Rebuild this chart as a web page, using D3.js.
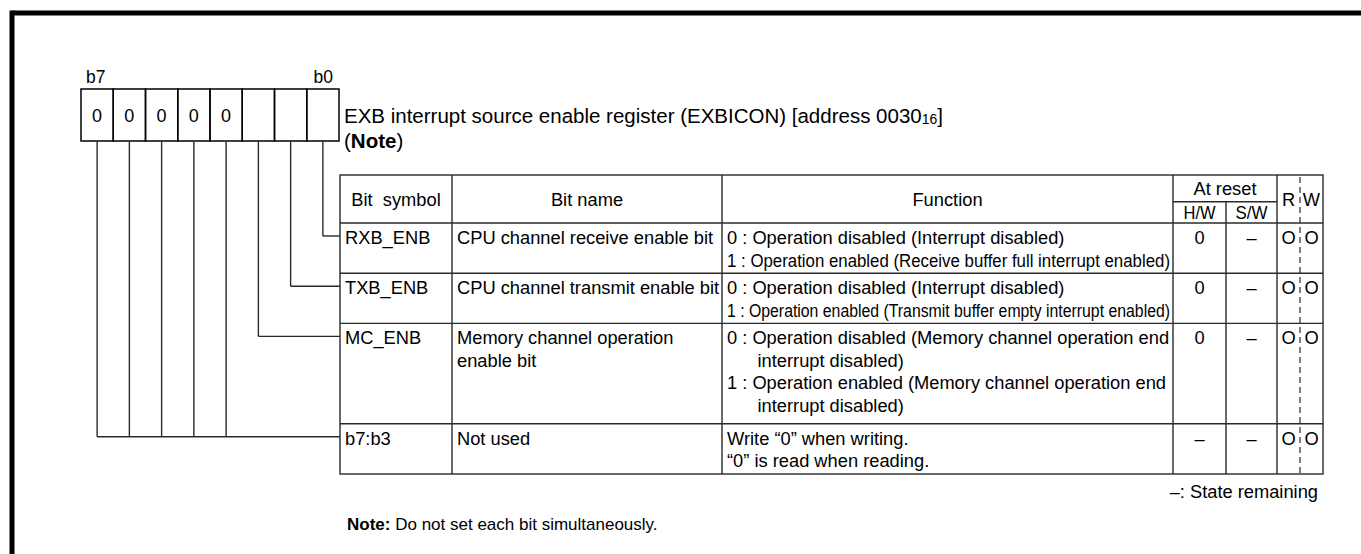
<!DOCTYPE html>
<html>
<head>
<meta charset="utf-8">
<script src="https://cdn.jsdelivr.net/npm/d3@7"></script>
<style>
  html, body { margin: 0; padding: 0; background: #fff; }
  svg text { font-family: "Liberation Sans", Arial, Helvetica, sans-serif; fill: #000; white-space: pre; }
</style>
</head>
<body>
<svg id="chart" width="1361" height="554"></svg>
<script>
// ---------------- data ----------------
const bitOrder = [7, 6, 5, 4, 3, 2, 1, 0];
const bitEndLabels = ["b7", "b0"];
const bitValues = ["0", "0", "0", "0", "0", "", "", ""];
const titleMain = "EXB interrupt source enable register (EXBICON) [address 0030";
const titleSub = "16";
const titleEnd = "]";
const headerLabels = ["Bit  symbol", "Bit name", "Function", "At reset", "H/W", "S/W", "R", "W"];
const bitSymbols = ["RXB_ENB", "TXB_ENB", "MC_ENB", "b7:b3"];
const bitNames = [
  ["CPU channel receive enable bit"],
  ["CPU channel transmit enable bit"],
  ["Memory channel operation", "enable bit"],
  ["Not used"]
];
const functionLines = [
  ["0 : Operation disabled (Interrupt disabled)", "1 : Operation enabled (Receive buffer full interrupt enabled)"],
  ["0 : Operation disabled (Interrupt disabled)", "1 : Operation enabled (Transmit buffer empty interrupt enabled)"],
  ["0 : Operation disabled (Memory channel operation end", "      interrupt disabled)",
   "1 : Operation enabled (Memory channel operation end", "      interrupt disabled)"],
  ["Write \u201c0\u201d when writing.", "\u201c0\u201d is read when reading."]
];
const condensedLines = [[1], [1], [], []];
const resetHW = ["0", "0", "0", "\u2013"];
const resetSW = ["\u2013", "\u2013", "\u2013", "\u2013"];
const readMarks = ["O", "O", "O", "O"];
const writeMarks = ["O", "O", "O", "O"];
const rowLineCounts = [2, 2, 4, 2];
const rowBits = [[0], [1], [2], [3, 4, 5, 6, 7]];
const legendText = "\u2013: State remaining";
const noteBold = "Note:";
const noteText = " Do not set each bit simultaneously.";

// ---------------- layout ----------------
const svg = d3.select("#chart");
const FS = 18.3;
const lineCol = "#2a2a2a";

// frame
svg.append("line").attr("x1", 12).attr("y1", 13).attr("x2", 1361).attr("y2", 13)
  .attr("stroke", "#000").attr("stroke-width", 5);
svg.append("line").attr("x1", 12).attr("y1", 10.5).attr("x2", 12).attr("y2", 554)
  .attr("stroke", "#000").attr("stroke-width", 5);

// register boxes
const xBit = d3.scaleBand().domain(bitOrder).range([81, 339]);
const boxTop = 89, boxBot = 141;
const reg = svg.append("g");
reg.selectAll("rect").data(bitOrder).join("rect")
  .attr("x", d => xBit(d)).attr("y", boxTop)
  .attr("width", xBit.bandwidth()).attr("height", boxBot - boxTop)
  .attr("fill", "none").attr("stroke", "#000").attr("stroke-width", 1.5);
reg.selectAll("text.val").data(bitOrder).join("text").attr("class", "val")
  .attr("x", d => xBit(d) + xBit.bandwidth() / 2).attr("y", (boxTop + boxBot) / 2 + 6.5)
  .attr("text-anchor", "middle").attr("font-size", 18)
  .text((d, i) => bitValues[i]);
svg.append("text").attr("x", xBit(7) + 5).attr("y", 83).attr("font-size", 17.5).text(bitEndLabels[0]);
svg.append("text").attr("x", xBit(0) + xBit.bandwidth() - 6).attr("y", 83)
  .attr("text-anchor", "end").attr("font-size", 17.5).text(bitEndLabels[1]);

// title
const TFS = 20.5;
const title = svg.append("text").attr("x", 344).attr("y", 123).attr("font-size", TFS);
title.append("tspan").text(titleMain);
title.append("tspan").attr("font-size", 14).attr("dy", 1).text(titleSub);
title.append("tspan").attr("dy", -1).text(titleEnd);
const t2 = svg.append("text").attr("x", 344).attr("y", 148).attr("font-size", TFS);
t2.append("tspan").text("(");
t2.append("tspan").attr("font-weight", "bold").text("Note");
t2.append("tspan").text(")");

// table geometry
const colX = [340, 452, 722, 1173, 1226, 1277, 1300, 1323];
const tableTop = 175, headMid = 201.7, headBot = 223;
const cum = [0];
rowLineCounts.forEach(c => cum.push(cum[cum.length - 1] + c));
const yLine = d3.scaleLinear().domain([0, cum[cum.length - 1]]).range([headBot, 474]);
const tableBot = yLine(cum[cum.length - 1]);

const tg = svg.append("g").attr("stroke", lineCol).attr("stroke-width", 1.4);
tg.append("rect").attr("x", colX[0]).attr("y", tableTop)
  .attr("width", colX[7] - colX[0]).attr("height", tableBot - tableTop).attr("fill", "none");
[1, 2, 3, 5].forEach(i => {
  tg.append("line").attr("x1", colX[i]).attr("x2", colX[i]).attr("y1", tableTop).attr("y2", tableBot);
});
tg.append("line").attr("x1", colX[4]).attr("x2", colX[4]).attr("y1", headMid).attr("y2", tableBot);
tg.append("line").attr("x1", colX[3]).attr("x2", colX[5]).attr("y1", headMid).attr("y2", headMid);
cum.slice(0, -1).forEach(c => {
  tg.append("line").attr("x1", colX[0]).attr("x2", colX[7]).attr("y1", yLine(c)).attr("y2", yLine(c));
});
svg.append("line").attr("x1", colX[6]).attr("x2", colX[6]).attr("y1", tableTop + 2).attr("y2", tableBot)
  .attr("stroke", lineCol).attr("stroke-width", 1.2).attr("stroke-dasharray", "6,4");

// header text
const hdr = svg.append("g").attr("font-size", FS).attr("text-anchor", "middle");
const hMidY = (tableTop + headBot) / 2 + 6.5;
hdr.append("text").attr("x", (colX[0] + colX[1]) / 2).attr("y", hMidY).text(headerLabels[0]);
hdr.append("text").attr("x", (colX[1] + colX[2]) / 2).attr("y", hMidY).text(headerLabels[1]);
hdr.append("text").attr("x", (colX[2] + colX[3]) / 2).attr("y", hMidY).text(headerLabels[2]);
hdr.append("text").attr("x", (colX[3] + colX[5]) / 2).attr("y", (tableTop + headMid) / 2 + 6.5).text(headerLabels[3]);
hdr.append("text").attr("x", (colX[3] + colX[4]) / 2).attr("y", (headMid + headBot) / 2 + 6.5)
  .attr("textLength", 32).attr("lengthAdjust", "spacingAndGlyphs").text(headerLabels[4]);
hdr.append("text").attr("x", (colX[4] + colX[5]) / 2).attr("y", (headMid + headBot) / 2 + 6.5)
  .attr("textLength", 32).attr("lengthAdjust", "spacingAndGlyphs").text(headerLabels[5]);
hdr.append("text").attr("x", (colX[5] + colX[6]) / 2).attr("y", hMidY).text(headerLabels[6]);
hdr.append("text").attr("x", (colX[6] + colX[7]) / 2).attr("y", hMidY).text(headerLabels[7]);

// rows
const body = svg.append("g").attr("font-size", FS);
const firstOff = 14.5, pitch = 22.5, baseOff = 6.5;
bitSymbols.forEach((sym, r) => {
  const top = yLine(cum[r]);
  const ly = i => top + firstOff + i * pitch + baseOff;
  body.append("text").attr("x", colX[0] + 5).attr("y", ly(0)).text(sym);
  bitNames[r].forEach((t, i) => body.append("text").attr("x", colX[1] + 5).attr("y", ly(i)).text(t));
  functionLines[r].forEach((t, i) => {
    const tx = body.append("text").attr("x", colX[2] + 5).attr("y", ly(i)).text(t);
    if (condensedLines[r].includes(i)) {
      tx.attr("textLength", colX[3] - colX[2] - 8).attr("lengthAdjust", "spacingAndGlyphs");
    }
  });
  body.append("text").attr("x", (colX[3] + colX[4]) / 2).attr("y", ly(0)).attr("text-anchor", "middle").text(resetHW[r]);
  body.append("text").attr("x", (colX[4] + colX[5]) / 2).attr("y", ly(0)).attr("text-anchor", "middle").text(resetSW[r]);
  body.append("text").attr("x", (colX[5] + colX[6]) / 2).attr("y", ly(0)).attr("text-anchor", "middle").text(readMarks[r]);
  body.append("text").attr("x", (colX[6] + colX[7]) / 2).attr("y", ly(0)).attr("text-anchor", "middle").text(writeMarks[r]);
});

// connectors from register bits to rows
const cg = svg.append("g").attr("stroke", lineCol).attr("stroke-width", 1.4).attr("fill", "none");
rowBits.forEach((bits, r) => {
  const cy = yLine(cum[r]) + 13;
  bits.forEach(b => {
    const cx = xBit(b) + xBit.bandwidth() / 2;
    cg.append("line").attr("x1", cx).attr("x2", cx).attr("y1", boxBot).attr("y2", cy);
  });
  const left = d3.min(bits, b => xBit(b) + xBit.bandwidth() / 2);
  cg.append("line").attr("x1", left).attr("x2", colX[0]).attr("y1", cy).attr("y2", cy);
});

// legend & note
svg.append("text").attr("x", 1318).attr("y", 498).attr("text-anchor", "end").attr("font-size", FS).text(legendText);
const note = svg.append("text").attr("x", 347).attr("y", 530).attr("font-size", 17);
note.append("tspan").attr("font-weight", "bold").text(noteBold);
note.append("tspan").text(noteText);
</script>
</body>
</html>
